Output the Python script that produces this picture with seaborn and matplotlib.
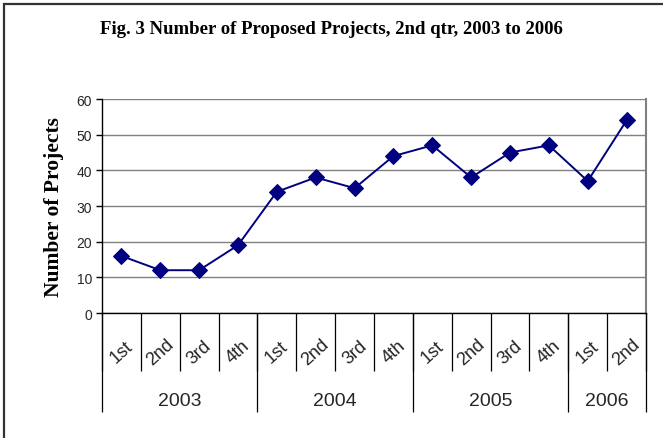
import matplotlib
matplotlib.use("Agg")
import matplotlib.pyplot as plt
import matplotlib.patches as mpatches
import seaborn as sns
import pandas as pd

# data
quarters = ["1st", "2nd", "3rd", "4th", "1st", "2nd", "3rd", "4th",
            "1st", "2nd", "3rd", "4th", "1st", "2nd"]
years = ["2003", "2004", "2005", "2006"]
quarters_per_year = [4, 4, 4, 2]
projects = [16, 12, 12, 19, 34, 38, 35, 44, 47, 38, 45, 47, 37, 54]
y_ticks = [0, 10, 20, 30, 40, 50, 60]

df = pd.DataFrame({"pos": range(len(projects)), "projects": projects})

sns.set_style("white")
plt.rcParams["font.family"] = ["Liberation Sans", "DejaVu Sans"]

fig = plt.figure(figsize=(6.63, 4.39), dpi=100)
ax = fig.add_axes([0.1538, 0.2847, 0.8206, 0.4875])

# outer frame (right and bottom edges fall outside the image)
frame = mpatches.Rectangle((4 / 663, -0.1), 1.2, 1 - 5 / 439 + 0.1, transform=fig.transFigure,
                           fill=False, edgecolor="#333333", linewidth=1.6)
fig.patches.append(frame)

sns.lineplot(data=df, x="pos", y="projects", ax=ax, color="#000080", marker="D",
             markersize=8, markeredgecolor="#000080", linewidth=1.4, clip_on=False, zorder=5)

ax.set_xlim(-0.5, len(projects) - 0.5)
ax.set_ylim(0, 60)
ax.set_yticks(y_ticks)
ax.yaxis.grid(True, color="#808080", linewidth=1)
ax.set_axisbelow(True)
ax.tick_params(axis="y", direction="out", length=4, width=1, color="black",
               labelsize=10, pad=3, left=True)
ax.set_xticks([])
ax.set_xlabel("")
ax.set_ylabel("Number of Projects", fontsize=15.5, fontweight="bold",
              family="Liberation Serif", labelpad=9, color="black")

for side in ["left", "bottom"]:
    ax.spines[side].set_color("black")
    ax.spines[side].set_linewidth(1)
ax.spines["right"].set_color("#808080")
ax.spines["right"].set_linewidth(1.5)
ax.spines["top"].set_visible(False)

# quarter labels and separators
trans = ax.get_xaxis_transform()
for i, q in enumerate(quarters):
    ax.text(i, -0.18, q, transform=trans, rotation=42, ha="center", va="center",
            fontsize=13)
ax.vlines([i - 0.5 for i in range(len(quarters) + 1)], -0.271, 0, transform=trans,
          colors="black", linewidth=0.9, clip_on=False)

# year labels and separators
start = 0
edges = [-0.5]
for y, n in zip(years, quarters_per_year):
    ax.text(start + (n - 1) / 2, -0.41, y, transform=trans, ha="center", va="center",
            fontsize=14)
    start += n
    edges.append(start - 0.5)
ax.vlines(edges, -0.4626, 0, transform=trans, colors="black", linewidth=0.9, clip_on=False)

fig.text(0.5, 0.932, "Fig. 3 Number of Proposed Projects, 2nd qtr, 2003 to 2006",
         ha="center", va="center", fontsize=13.5, fontweight="bold",
         family="Liberation Serif", color="black")

fig.savefig("out.png", dpi=100)
